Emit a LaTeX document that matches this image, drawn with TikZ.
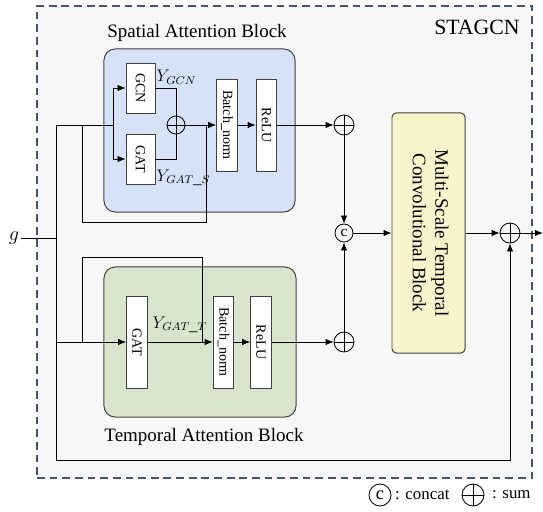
\documentclass[tikz,border=0pt]{standalone}
\usepackage{fontspec}
\setmainfont{Liberation Serif}
\usepackage{tikz}
\usetikzlibrary{calc,positioning,arrows.meta}
\definecolor{frameBlue}{HTML}{44546A}
\definecolor{outerBg}{HTML}{F7F7F7}
\definecolor{spBg}{HTML}{D5E2F8}
\definecolor{tpBg}{HTML}{D8E4CB}
\definecolor{msBg}{HTML}{F9F3CC}
\definecolor{edgeGray}{HTML}{404040}
\tikzset{
    outerFrame/.style={draw=frameBlue, fill=outerBg, line width=1pt,
                       dash pattern=on 5.5pt off 3.5pt},
    frameTitle/.style={font=\fontsize{15.5}{17}\selectfont},
    blockTitle/.style={font=\fontsize{13.5}{15}\selectfont},
    spBlockBox/.style={draw=edgeGray, fill=spBg, rounded corners=8pt, line width=0.7pt,
                       minimum width=4.775cm, minimum height=4.075cm},
    tpBlockBox/.style={draw=edgeGray, fill=tpBg, rounded corners=8pt, line width=0.7pt,
                       minimum width=4.8cm, minimum height=3.75cm},
    msBlockBox/.style={draw=edgeGray, fill=msBg, rounded corners=3pt, line width=0.7pt,
                       minimum width=1.825cm, minimum height=6cm,
                       font=\fontsize{13.5}{16}\selectfont},
    layer/.style={draw=edgeGray, fill=white, line width=0.6pt, inner sep=0pt,
                  font=\fontsize{10}{11}\selectfont},
    layerTall/.style={layer, minimum width=0.52cm, minimum height=2.3cm},
    yLabel/.style={font=\fontsize{12}{13}\selectfont, inner sep=1pt},
    sumNode/.style={circle, draw, line width=0.6pt, minimum size=0.5cm, inner sep=0pt,
                    path picture={\draw[line width=0.6pt]
                        (path picture bounding box.north) -- (path picture bounding box.south)
                        (path picture bounding box.west) -- (path picture bounding box.east);}},
    catNode/.style={circle, draw, line width=0.6pt, minimum size=0.45cm, inner sep=0pt,
                    font=\fontsize{11}{12}\selectfont},
    keyText/.style={font=\fontsize{12}{14}\selectfont, inner sep=1pt},
    conn/.style={line width=0.6pt},
    arr/.style={conn, -{Latex[length=2mm, width=1.6mm]}},
}

\begin{document}
\begin{tikzpicture}[x=0.025cm, y=-0.025cm]
\useasboundingbox (0,0) rectangle (543,511);

% outer frame
\node[outerFrame, minimum width=12.375cm, minimum height=11.8cm] (frame) at (284.5,242) {};
\node[frameTitle] (stagcn) at (477,27) {STAGCN};

% blocks
\node[spBlockBox] (spBlock) at (199.5,130.5) {};
\node[blockTitle] (spTitle) at (197,33) {Spatial Attention Block};
\node[tpBlockBox] (tpBlock) at (200,342) {};
\node[blockTitle] (tpTitle) at (204,437) {Temporal Attention Block};
\node[msBlockBox] (mstc) at (428.5,233)
     {\rotatebox{-90}{\begin{tabular}{@{}c@{}}Multi-Scale Temporal\\Convolutional Block\end{tabular}}};

% spatial layers
\node[layer, minimum width=0.725cm, minimum height=1.25cm] (gcn) at (140.5,88) {\rotatebox{-90}{GCN}};
\node[layer, minimum width=0.725cm, minimum height=1.25cm] (gatS) at (140.5,159) {\rotatebox{-90}{GAT}};
\node[sumNode, minimum size=0.45cm] (sumIn) at (176,125) {};
\node[layerTall] (bnS) at (227,125) {\rotatebox{-90}{Batch\_norm}};
\node[layerTall] (reluS) at (266.5,125) {\rotatebox{-90}{ReLU}};
\node[yLabel, anchor=west] (yGcn) at (155,77) {$Y_{GCN}$};
\node[yLabel, anchor=west] (yGatS) at (155,178) {$Y_{GAT\_S}$};

% temporal layers
\node[layerTall] (gatT) at (137,342) {\rotatebox{-90}{GAT}};
\node[layerTall] (bnT) at (223.5,342) {\rotatebox{-90}{Batch\_norm}};
\node[layerTall] (reluT) at (261,342) {\rotatebox{-90}{ReLU}};
\node[yLabel, anchor=west] (yGatT) at (151,325) {$Y_{GAT\_T}$};

% merge nodes
\node[sumNode] (sumS) at (344,125) {};
\node[sumNode] (sumT) at (344,342) {};
\node[catNode] (cat) at (344,233) {c};
\node[sumNode] (sumOut) at (510,233) {};

% input
\node[font=\fontsize{15}{17}\selectfont, inner sep=1pt] (g) at (14,238) {$g$};
\coordinate (out) at (543,233);
\coordinate (gJoin) at (56,238);
\coordinate (trunkTop) at (56,125);
\coordinate (trunkBot) at (56,460);
\coordinate (spSplit) at (113,125);
\coordinate (spRes) at (82,125);
\coordinate (spMerge) at (206,125);
\coordinate (tpIn) at (56,342);
\coordinate (tpRes) at (82,342);
\coordinate (tpMerge) at (202,342);

% connectors
\draw[conn] (g) -- (gJoin);
\draw[arr] (trunkTop) -- (trunkBot) -| (sumOut);
\draw[conn] (trunkTop) -- (spSplit);
\draw[arr] (spSplit) |- (gcn);
\draw[arr] (spSplit) |- (gatS);
\draw[conn] (gcn) -| (sumIn);
\draw[conn] (gatS) -| (sumIn);
\draw[arr] (sumIn) -- (bnS);
\draw[conn] (spRes) -- ++(0,97) -| (spMerge);
\draw[arr] (bnS) -- (reluS);
\draw[arr] (reluS) -- (sumS);
\draw[arr] (sumS) -- (cat);

\draw[arr] (tpIn) -- (gatT);
\draw[conn] (tpRes) -- ++(0,-85) -| (tpMerge);
\draw[arr] (gatT) -- (bnT);
\draw[arr] (bnT) -- (reluT);
\draw[arr] (reluT) -- (sumT);
\draw[arr] (sumT) -- (cat);

\draw[arr] (cat) -- (mstc);
\draw[arr] (mstc) -- (sumOut);
\draw[arr] (sumOut) -- (out);

% legend
\node[catNode, minimum size=0.55cm, font=\fontsize{13}{14}\selectfont] (catKey) at (380,495) {c};
\node[keyText, right=0.5mm of catKey] (catKeyText) {: concat};
\node[sumNode, minimum size=0.55cm] (sumKey) at (473,495) {};
\node[keyText, right=1.5mm of sumKey] (sumKeyText) {: sum};

\end{tikzpicture}
\end{document}
